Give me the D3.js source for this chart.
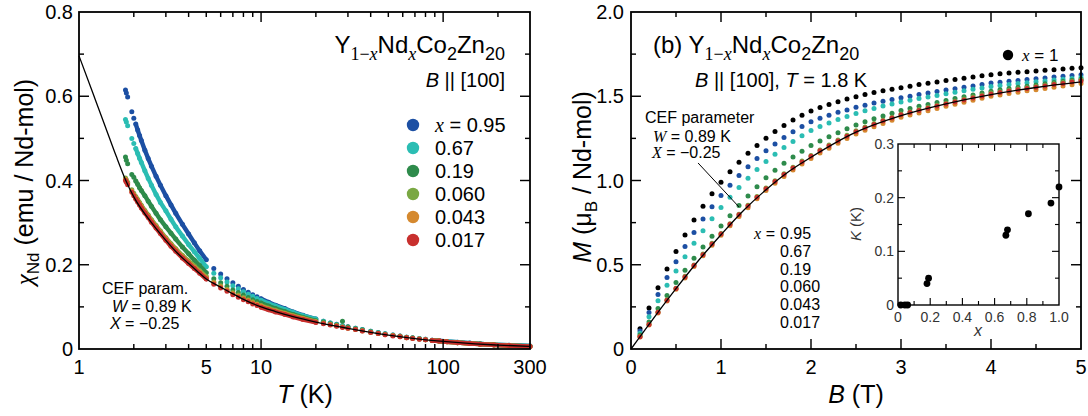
<!DOCTYPE html>
<html>
<head>
<meta charset="utf-8">
<script src="https://cdn.jsdelivr.net/npm/d3@7"></script>
<style>
  body { margin: 0; background: #fff; }
  svg { display: block; }
  text { font-family: "Liberation Sans", Arial, Helvetica, sans-serif; fill: #000; }
</style>
</head>
<body>
<svg id="fig" width="1088" height="416"></svg>
<script>
// ---- left panel: chi(T), one temperature list shared by all compositions
const tempK = [1.8, 1.82, 1.85, 1.95, 2.0, 2.05, 2.1, 2.15, 2.2, 2.3, 2.4, 2.5, 2.65, 2.8, 3.0, 3.2, 3.4, 3.7, 4.0, 4.3, 4.6, 5.0,
  5.5, 6, 6.5, 7, 7.5, 8, 8.5, 9, 9.5, 10, 11, 12, 13.5, 15, 17, 20,
  22, 24, 26, 28, 30, 33, 36, 40, 44, 48, 53, 58, 63, 68, 74, 80, 87, 95, 105, 120, 140, 160, 190, 230, 300];

const chi095 = [.615, .608, .598, .563, .548, .534, .520, .507, .495, .472, .452, .434, .410, .389, .364, .342, .322, .296, .273, .252, .233, .212,
  .191, .178, .167, .157, .149, .141, .135, .129, .124, .119, .111, .104, .096, .088, .080, .071,
  .066, .062, .059, .055, .053, .049, .046, .042, .039, .036, .033, .031, .028, .027, .025, .023, .021, .020, .018, .016, .014, .012, .010, .009, .007];
const chi067 = [.545, .539, .530, .500, .488, .476, .464, .453, .443, .423, .405, .389, .367, .348, .328, .308, .290, .268, .248, .231, .215, .195,
  .180, .169, .159, .150, .143, .136, .130, .125, .120, .116, .108, .102, .094, .087, .079, .071,
  .066, .062, .058, .055, .052, .049, .046, .042, .039, .036, .033, .030, .028, .026, .025, .023, .021, .019, .018, .016, .014, .012, .010, .009, .007];
const chi019 = [.456, .448, .440, .414, .408, .399, .391, .383, .376, .364, .351, .339, .322, .307, .290, .275, .261, .242, .226, .211, .198, .181,
  .167, .157, .149, .140, .134, .128, .122, .117, .113, .109, .102, .096, .089, .082, .075, .067,
  .064, .060, .057, .066, .052, .048, .045, .041, .038, .035, .032, .030, .028, .026, .024, .022, .021, .019, .017, .015, .013, .012, .010, .008, .0065];
const chi0060 = [.406, .402, .396, .378, .370, .362, .355, .348, .341, .329, .318, .307, .293, .280, .264, .250, .238, .222, .209, .197, .186, .172,
  .159, .150, .142, .134, .128, .122, .117, .112, .107, .103, .097, .092, .085, .079, .073, .065,
  .062, .058, .055, .052, .050, .047, .044, .040, .037, .035, .032, .030, .027, .026, .024, .022, .020, .019, .017, .015, .013, .0115, .0097, .0081, .0062];
const chi0043 = [.403, .399, .393, .375, .367, .359, .352, .345, .338, .326, .315, .304, .290, .277, .261, .247, .235, .219, .206, .194, .183, .169,
  .157, .148, .140, .132, .126, .120, .115, .110, .106, .102, .095, .090, .084, .078, .072, .064,
  .061, .058, .055, .052, .049, .046, .043, .040, .037, .034, .032, .029, .027, .025, .024, .022, .020, .019, .017, .015, .013, .0115, .0097, .0081, .0062];
const chi0017 = [.400, .396, .390, .372, .364, .356, .349, .342, .335, .323, .312, .301, .287, .274, .258, .244, .232, .216, .203, .191, .180, .166,
  .154, .145, .137, .129, .123, .117, .112, .107, .103, .099, .093, .088, .082, .076, .070, .063,
  .060, .057, .054, .051, .049, .046, .043, .039, .037, .034, .031, .029, .027, .025, .023, .022, .020, .019, .017, .015, .013, .0115, .0097, .0081, .0062];

const cefT = [1, 1.2, 1.4, 1.6, 1.8, 2, 2.5, 3, 3.5, 4, 4.5, 5, 6, 7, 8, 10, 12, 15, 20, 30, 40, 50, 70, 100, 150, 200, 300];
const cefChi = [.696, .604, .526, .458, .402, .361, .300, .258, .226, .203, .183, .166, .147, .131, .118, .100, .089, .077, .064, .049, .0395, .033, .0248, .018, .0122, .0093, .0062];

const compositions = ["0.95", "0.67", "0.19", "0.060", "0.043", "0.017"];
const colors = ["#1c4fa3", "#2bbdb3", "#2e8b4b", "#7aa843", "#d5892f", "#c8302e"];
const tTickLabels = [1, 5, 10, 100, 300];

// ---- right panel: M(B) at 1.8 K
const fieldB = [0.1, 0.2, 0.3, 0.4, 0.5, 0.6, 0.7, 0.8, 0.9, 1.0,
  1.1, 1.2, 1.3, 1.4, 1.5, 1.6, 1.7, 1.8, 1.9, 2.0,
  2.1, 2.2, 2.3, 2.4, 2.5, 2.6, 2.7, 2.8, 2.9, 3.0,
  3.1, 3.2, 3.3, 3.4, 3.5, 3.6, 3.7, 3.8, 3.9, 4.0,
  4.1, 4.2, 4.3, 4.4, 4.5, 4.6, 4.7, 4.8, 4.9, 5.0];
const mX1 = [.120, .244, .363, .475, .579, .676, .765, .847, .922, .990,
  1.052, 1.109, 1.161, 1.208, 1.251, 1.291, 1.327, 1.359, 1.387, 1.412,
  1.433, 1.451, 1.468, 1.483, 1.497, 1.510, 1.522, 1.533, 1.542, 1.551,
  1.560, 1.569, 1.577, 1.585, 1.593, 1.600, 1.607, 1.614, 1.621, 1.628,
  1.633, 1.638, 1.642, 1.646, 1.650, 1.654, 1.658, 1.662, 1.666, 1.669];
const m095 = [.107, .217, .324, .425, .518, .608, .692, .771, .844, .911,
  .972, 1.029, 1.082, 1.131, 1.176, 1.217, 1.255, 1.290, 1.320, 1.348,
  1.370, 1.387, 1.405, 1.419, 1.434, 1.447, 1.460, 1.471, 1.481, 1.491,
  1.500, 1.510, 1.519, 1.528, 1.537, 1.545, 1.553, 1.561, 1.569, 1.578,
  1.583, 1.589, 1.594, 1.599, 1.604, 1.609, 1.614, 1.618, 1.623, 1.627];
const m067 = [.094, .192, .287, .378, .463, .547, .627, .702, .773, .840,
  .901, .959, 1.014, 1.065, 1.113, 1.156, 1.196, 1.232, 1.266, 1.296,
  1.320, 1.341, 1.362, 1.380, 1.398, 1.414, 1.428, 1.442, 1.454, 1.466,
  1.476, 1.486, 1.496, 1.505, 1.515, 1.524, 1.532, 1.541, 1.549, 1.558,
  1.564, 1.570, 1.575, 1.580, 1.586, 1.591, 1.596, 1.601, 1.606, 1.611];
const m019 = [.083, .160, .240, .318, .394, .467, .538, .605, .669, .730,
  .791, .851, .908, .963, 1.016, 1.061, 1.102, 1.140, 1.174, 1.207,
  1.235, 1.260, 1.284, 1.307, 1.329, 1.348, 1.366, 1.383, 1.399, 1.415,
  1.427, 1.440, 1.451, 1.463, 1.475, 1.486, 1.497, 1.508, 1.519, 1.530,
  1.538, 1.546, 1.553, 1.560, 1.567, 1.574, 1.581, 1.588, 1.595, 1.601];
const m0060 = [.075, .147, .220, .292, .361, .432, .499, .564, .627, .686,
  .744, .800, .853, .905, .955, .999, 1.040, 1.079, 1.115, 1.149,
  1.181, 1.210, 1.240, 1.268, 1.295, 1.317, 1.338, 1.358, 1.376, 1.395,
  1.408, 1.421, 1.434, 1.447, 1.459, 1.471, 1.483, 1.495, 1.507, 1.519,
  1.527, 1.536, 1.543, 1.551, 1.558, 1.566, 1.574, 1.581, 1.589, 1.596];
const m0043 = [.071, .142, .214, .285, .354, .422, .489, .554, .616, .675,
  .732, .787, .839, .891, .940, .983, 1.023, 1.062, 1.098, 1.131,
  1.163, 1.192, 1.221, 1.249, 1.276, 1.298, 1.319, 1.339, 1.357, 1.375,
  1.388, 1.401, 1.414, 1.427, 1.440, 1.452, 1.464, 1.476, 1.488, 1.500,
  1.508, 1.517, 1.524, 1.532, 1.538, 1.546, 1.554, 1.561, 1.568, 1.575];
const m0017 = [.073, .145, .218, .290, .359, .428, .495, .560, .623, .682,
  .740, .796, .849, .901, .951, .994, 1.035, 1.074, 1.110, 1.144,
  1.176, 1.205, 1.235, 1.263, 1.290, 1.312, 1.333, 1.353, 1.371, 1.390,
  1.403, 1.416, 1.429, 1.442, 1.454, 1.466, 1.478, 1.490, 1.502, 1.514,
  1.522, 1.531, 1.538, 1.546, 1.553, 1.561, 1.569, 1.576, 1.584, 1.591];

const cefB = [0, 0.25, 0.5, 0.75, 1, 1.25, 1.5, 1.75, 2, 2.5, 3, 3.5, 4, 4.5, 5];
const cefM = [0, .182, .358, .525, .678, .822, .945, 1.052, 1.138, 1.287, 1.385, 1.455, 1.510, 1.552, 1.585];

// inset: K vs x
const insetX = [0.017, 0.043, 0.060, 0.18, 0.19, 0.67, 0.68, 0.81, 0.95, 1.0];
const insetK = [0, 0, 0, 0.04, 0.05, 0.13, 0.14, 0.17, 0.19, 0.22];

const serif = "'Liberation Serif', 'Times New Roman', serif";
const svg = d3.select("#fig");

const xT = d3.scaleLog().domain([1, 300]).range([79, 530]);
const yChi = d3.scaleLinear().domain([0, 0.8]).range([349, 12]);
const xB = d3.scaleLinear().domain([0, 5]).range([631, 1081]);
const yM = d3.scaleLinear().domain([0, 2]).range([349, 12]);
const xI = d3.scaleLinear().domain([0, 1]).range([898, 1059]);
const yI = d3.scaleLinear().domain([0, 0.3]).range([305, 144]);

// box with inward ticks on all four sides
function boxTicks(g, xs, ys, xMaj, xMin, yMaj, yMin, big, small, sw) {
    const [xa, xb] = xs.range(), [ya, yb] = ys.range();
    let segs = [];
    xMaj.forEach(v => segs.push([xs(v), ya, xs(v), ya - big], [xs(v), yb, xs(v), yb + big]));
    xMin.forEach(v => segs.push([xs(v), ya, xs(v), ya - small], [xs(v), yb, xs(v), yb + small]));
    yMaj.forEach(v => segs.push([xa, ys(v), xa + big, ys(v)], [xb, ys(v), xb - big, ys(v)]));
    yMin.forEach(v => segs.push([xa, ys(v), xa + small, ys(v)], [xb, ys(v), xb - small, ys(v)]));
    g.append("g")
        .selectAll("line")
        .data(segs)
        .join("line")
        .attr("x1", d => d[0]).attr("y1", d => d[1])
        .attr("x2", d => d[2]).attr("y2", d => d[3])
        .attr("stroke", "#000")
        .attr("stroke-width", sw * 0.8);
    g.append("rect")
        .attr("x", xa).attr("y", yb)
        .attr("width", xb - xa).attr("height", ya - yb)
        .attr("fill", "none")
        .attr("stroke", "#000")
        .attr("stroke-width", sw);
}

function xLabels(g, xs, vals, fmt, y, size, fill) {
    g.append("g").selectAll("text").data(vals).join("text")
        .attr("x", d => xs(d)).attr("y", y)
        .attr("text-anchor", "middle")
        .attr("font-size", size)
        .style("fill", fill || "#000")
        .text(fmt);
}

function yLabels(g, ys, vals, fmt, x, size, fill) {
    g.append("g").selectAll("text").data(vals).join("text")
        .attr("x", x).attr("y", d => ys(d))
        .attr("dy", "0.35em")
        .attr("text-anchor", "end")
        .attr("font-size", size)
        .style("fill", fill || "#000")
        .text(fmt);
}

// Y1-xNdxCo2Zn20 with sub-scripts
function formula(t, size) {
    const sub = size * 0.75, dd = size * 0.29;
    t.append("tspan").text("Y");
    t.append("tspan").attr("font-family", serif).attr("font-size", sub).attr("dy", dd).text("1\u2212");
    t.append("tspan").attr("font-family", serif).attr("font-style", "italic").attr("font-size", sub).text("x");
    t.append("tspan").attr("dy", -dd).text("Nd");
    t.append("tspan").attr("font-family", serif).attr("font-style", "italic").attr("font-size", sub).attr("dy", dd).text("x");
    t.append("tspan").attr("dy", -dd).text("Co");
    t.append("tspan").attr("font-size", sub).attr("dy", dd).text("2");
    t.append("tspan").attr("dy", -dd).text("Zn");
    t.append("tspan").attr("font-size", sub).attr("dy", dd).text("20");
}

// ================= left panel =================
const left = svg.append("g");
const tLine = d3.line().x(d => xT(d[0])).y(d => yChi(d[1]));
const denseRuns = [[5, 21], [31, 37], [54, 62]];
const chiSeries = [chi095, chi067, chi019, chi0060, chi0043, chi0017];

chiSeries.forEach((vals, i) => {
    let pts = tempK.map((t, j) => [t, vals[j]]);
    let g = left.append("g");
    // closely spaced measurements merge into a band
    for (let [a, b] of denseRuns) {
        g.append("path")
            .datum(pts.slice(a, b + 1))
            .attr("d", tLine)
            .attr("fill", "none")
            .attr("stroke", colors[i])
            .attr("stroke-width", 4.4)
            .attr("stroke-linecap", "round")
            .attr("stroke-linejoin", "round");
    }
    g.selectAll("circle")
        .data(pts)
        .join("circle")
        .attr("cx", d => xT(d[0]))
        .attr("cy", d => yChi(d[1]))
        .attr("r", 2.5)
        .attr("fill", colors[i]);
});

left.append("path")
    .datum(cefT.map((t, i) => [t, cefChi[i]]))
    .attr("d", d3.line().x(d => xT(d[0])).y(d => yChi(d[1])).curve(d3.curveMonotoneX))
    .attr("fill", "none")
    .attr("stroke", "#000")
    .attr("stroke-width", 1.3);

boxTicks(left, xT, yChi, [10, 100], [2, 3, 4, 5, 6, 7, 8, 9, 20, 30, 40, 50, 60, 70, 80, 90, 200],
    [0.2, 0.4, 0.6], [0.1, 0.3, 0.5, 0.7], 10, 5, 1.8);
xLabels(left, xT, tTickLabels, d => d, 374, 20);
yLabels(left, yChi, [0, 0.2, 0.4, 0.6, 0.8], d => d === 0 ? "0" : d.toFixed(1), 73, 20);

let tl = left.append("text").attr("x", 505).attr("y", 53).attr("text-anchor", "end").attr("font-size", 24);
formula(tl, 24);
let bl = left.append("text").attr("x", 505).attr("y", 87).attr("text-anchor", "end").attr("font-size", 20);
bl.append("tspan").attr("font-style", "italic").text("B");
bl.append("tspan").text(" || [100]");

// legend
const legY = [125, 148, 171, 194, 217, 240];
compositions.forEach((c, i) => {
    left.append("circle").attr("cx", 413).attr("cy", legY[i]).attr("r", 6.2).attr("fill", colors[i]);
    let t = left.append("text").attr("x", 435).attr("y", legY[i]).attr("dy", "0.36em").attr("font-size", 20);
    if (i === 0) {
        t.append("tspan").attr("font-family", serif).attr("font-style", "italic").text("x");
        t.append("tspan").text(" = " + c);
    } else {
        t.text(c);
    }
});

left.append("text").attr("x", 102).attr("y", 294).attr("font-size", 16).text("CEF param.");
let lw = left.append("text").attr("x", 112).attr("y", 312).attr("font-size", 16);
lw.append("tspan").attr("font-style", "italic").text("W");
lw.append("tspan").text(" = 0.89 K");
let lx = left.append("text").attr("x", 110).attr("y", 329).attr("font-size", 16);
lx.append("tspan").attr("font-style", "italic").text("X");
lx.append("tspan").text(" = \u22120.25");

let xlT = left.append("text").attr("x", 305).attr("y", 403).attr("text-anchor", "middle").attr("font-size", 25);
xlT.append("tspan").attr("font-style", "italic").text("T");
xlT.append("tspan").text(" (K)");

let ylChi = left.append("text").attr("transform", "translate(33,182) rotate(-90)")
    .attr("text-anchor", "middle").attr("font-size", 25);
ylChi.append("tspan").attr("font-family", serif).attr("font-style", "italic").text("\u03c7");
ylChi.append("tspan").attr("font-size", 17).attr("dy", 6).text("Nd");
ylChi.append("tspan").attr("dy", -6).text(" (emu / Nd-mol)");

// ================= right panel =================
const right = svg.append("g");
const mSeries = [mX1, m095, m067, m019, m0060, m0043, m0017];
const mColors = ["#000"].concat(colors);

// inset sits underneath the data layer
const inset = right.append("g");
inset.append("rect").attr("x", 898).attr("y", 144).attr("width", 161).attr("height", 161).attr("fill", "#fff");

mSeries.forEach((vals, i) => {
    right.append("g")
        .selectAll("circle")
        .data(fieldB.map((b, j) => [b, vals[j]]))
        .join("circle")
        .attr("cx", d => xB(d[0]))
        .attr("cy", d => yM(d[1]))
        .attr("r", 2.5)
        .attr("fill", mColors[i]);
});

right.append("path")
    .datum(cefB.map((b, i) => [b, cefM[i]]))
    .attr("d", d3.line().x(d => xB(d[0])).y(d => yM(d[1])).curve(d3.curveMonotoneX))
    .attr("fill", "none")
    .attr("stroke", "#000")
    .attr("stroke-width", 1.3);

// pointer from the CEF note to the curve
right.append("line")
    .attr("x1", xB(0.745)).attr("y1", yM(1.104))
    .attr("x2", xB(1.2)).attr("y2", yM(0.843))
    .attr("stroke", "#000").attr("stroke-width", 1);

boxTicks(right, xB, yM, [1, 2, 3, 4], [0.5, 1.5, 2.5, 3.5, 4.5], [0.5, 1, 1.5], [0.25, 0.75, 1.25, 1.75], 10, 5, 1.8);
xLabels(right, xB, [0, 1, 2, 3, 4, 5], d => d, 374, 20);
yLabels(right, yM, [0, 0.5, 1, 1.5, 2], d => d === 0 ? "0" : d.toFixed(1), 624, 20);

let tr = right.append("text").attr("x", 653).attr("y", 53).attr("font-size", 24);
tr.append("tspan").text("(b) ");
formula(tr, 24);
let br = right.append("text").attr("x", 695).attr("y", 87).attr("font-size", 20);
br.append("tspan").attr("font-style", "italic").text("B");
br.append("tspan").text(" || [100], ");
br.append("tspan").attr("font-style", "italic").text("T");
br.append("tspan").text(" = 1.8 K");

right.append("circle").attr("cx", 1008).attr("cy", 55).attr("r", 5.2).attr("fill", "#000");
let x1t = right.append("text").attr("x", 1022).attr("y", 61).attr("font-size", 17);
x1t.append("tspan").attr("font-family", serif).attr("font-style", "italic").text("x");
x1t.append("tspan").text(" = 1");

right.append("text").attr("x", 645).attr("y", 123).attr("font-size", 16).text("CEF parameter");
let rw = right.append("text").attr("x", 653).attr("y", 142).attr("font-size", 16);
rw.append("tspan").attr("font-family", serif).attr("font-style", "italic").text("W");
rw.append("tspan").text(" = 0.89 K");
let rx = right.append("text").attr("x", 652).attr("y", 158).attr("font-size", 16);
rx.append("tspan").attr("font-family", serif).attr("font-style", "italic").text("X");
rx.append("tspan").text(" = \u22120.25");

// composition list next to the curves
const listY = [239, 257, 275, 292, 310, 328];
compositions.forEach((c, i) => {
    right.append("text").attr("x", 780).attr("y", listY[i]).attr("font-size", 16).text(c);
});
let lx0 = right.append("text").attr("x", 775).attr("y", listY[0]).attr("text-anchor", "end").attr("font-size", 16);
lx0.append("tspan").attr("font-family", serif).attr("font-style", "italic").text("x");
lx0.append("tspan").text(" =");

let xlB = right.append("text").attr("x", 856).attr("y", 403).attr("text-anchor", "middle").attr("font-size", 25);
xlB.append("tspan").attr("font-style", "italic").text("B");
xlB.append("tspan").text(" (T)");

let ylM = right.append("text").attr("transform", "translate(591,177) rotate(-90)")
    .attr("text-anchor", "middle").attr("font-size", 25);
ylM.append("tspan").attr("font-style", "italic").text("M");
ylM.append("tspan").text(" (\u03bc");
ylM.append("tspan").attr("font-size", 17).attr("dy", 6).text("B");
ylM.append("tspan").attr("dy", -6).text(" / Nd-mol)");

// ---- inset
inset.append("g")
    .selectAll("circle")
    .data(insetX.map((x, i) => [x, insetK[i]]))
    .join("circle")
    .attr("cx", d => xI(d[0]))
    .attr("cy", d => yI(d[1]))
    .attr("r", 3.4)
    .attr("fill", "#000");
boxTicks(inset, xI, yI, [0.2, 0.4, 0.6, 0.8], [0.1, 0.3, 0.5, 0.7, 0.9], [0.1, 0.2], [0.05, 0.15, 0.25], 7, 4, 1.4);
xLabels(inset, xI, [0, 0.2, 0.4, 0.6, 0.8, 1.0], d => d === 0 ? "0" : d.toFixed(1), 322, 14, "#333");
yLabels(inset, yI, [0, 0.1, 0.2, 0.3], d => d === 0 ? "0" : d.toFixed(1), 894, 14, "#333");
inset.append("text").attr("x", 978).attr("y", 336).attr("text-anchor", "middle")
    .attr("font-family", serif).attr("font-style", "italic").attr("font-size", 16).style("fill", "#333").text("x");
let ylK = inset.append("text").attr("transform", "translate(861,224) rotate(-90)")
    .attr("text-anchor", "middle").attr("font-size", 15).style("fill", "#333");
ylK.append("tspan").attr("font-style", "italic").text("K");
ylK.append("tspan").text(" (K)");
</script>
</body>
</html>
